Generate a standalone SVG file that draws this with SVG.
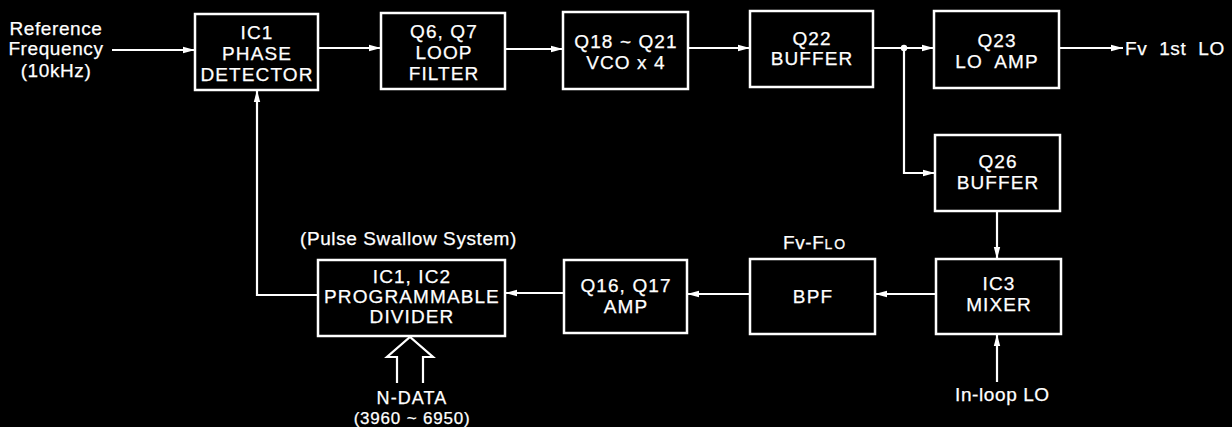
<svg xmlns="http://www.w3.org/2000/svg" width="1232" height="427" viewBox="0 0 1232 427">
<defs>
<style>
.box{fill:#000;stroke:#fff;stroke-width:2.5}
.t{fill:#fff;stroke:#fff;stroke-width:0.25;font-family:"Liberation Sans",Arial,sans-serif;font-size:19px;letter-spacing:1.1px;text-anchor:middle}
.l{fill:#fff;stroke:#fff;stroke-width:0.25;font-family:"Liberation Sans",Arial,sans-serif;font-size:19px;letter-spacing:0.6px}
.c{fill:none;stroke:#fff;stroke-width:2.2}
</style>
<marker id="ah" viewBox="0 0 12 8" refX="12" refY="4" markerWidth="12" markerHeight="8" markerUnits="userSpaceOnUse" orient="auto">
<path d="M0,0.8 L12,4 L0,7.2 Z" fill="#fff"/>
</marker>
</defs>
<rect width="1232" height="427" fill="#000"/>
<g id="connectors">
<path class="c" d="M112,50 H195" marker-end="url(#ah)"/>
<path class="c" d="M318,48 H381" marker-end="url(#ah)"/>
<path class="c" d="M505,49 H563" marker-end="url(#ah)"/>
<path class="c" d="M688,48 H750" marker-end="url(#ah)"/>
<path class="c" d="M873,48 H934" marker-end="url(#ah)"/>
<circle cx="904" cy="48" r="3.2" fill="#fff"/>
<path class="c" d="M904,48 V173 H935" marker-end="url(#ah)"/>
<path class="c" d="M1059,48 H1123" marker-end="url(#ah)"/>
<path class="c" d="M997,211 V259" marker-end="url(#ah)"/>
<path class="c" d="M997,382 V334" marker-end="url(#ah)"/>
<path class="c" d="M936,294 H875" marker-end="url(#ah)"/>
<path class="c" d="M750,294 H687" marker-end="url(#ah)"/>
<path class="c" d="M564,293 H505" marker-end="url(#ah)"/>
<path class="c" d="M318,295 H257 V90" marker-end="url(#ah)"/>
<path class="c" d="M397,383 V357 H387 L410,337 L433,357 H423 V383"/>
</g>
<g id="ref-input">
<text class="l" x="56" y="35" text-anchor="middle">Reference</text>
<text class="l" x="56" y="55" text-anchor="middle">Frequency</text>
<text class="l" x="56" y="77" text-anchor="middle">(10kHz)</text>
</g>
<g id="phase-detector">
<rect class="box" x="195" y="14" width="123" height="76"/>
<text class="t" x="257" y="39">IC1</text>
<text class="t" x="257" y="60">PHASE</text>
<text class="t" x="257" y="81">DETECTOR</text>
</g>
<g id="loop-filter">
<rect class="box" x="381" y="13" width="124" height="76"/>
<text class="t" x="444" y="38">Q6, Q7</text>
<text class="t" x="444" y="59">LOOP</text>
<text class="t" x="444" y="80">FILTER</text>
</g>
<g id="vco">
<rect class="box" x="563" y="12" width="125" height="77"/>
<text class="t" x="626" y="48">Q18 ~ Q21</text>
<text class="t" x="626" y="69">VCO x 4</text>
</g>
<g id="q22-buffer">
<rect class="box" x="750" y="11" width="123" height="76"/>
<text class="t" x="812" y="45">Q22</text>
<text class="t" x="812" y="65">BUFFER</text>
</g>
<g id="q23-lo-amp">
<rect class="box" x="934" y="11" width="125" height="77"/>
<text class="t" x="997" y="47">Q23</text>
<text class="t" x="997" y="68" word-spacing="6">LO AMP</text>
</g>
<g id="output-label">
<text class="l" x="1125" y="55" word-spacing="6">Fv 1st LO</text>
</g>
<g id="q26-buffer">
<rect class="box" x="935" y="135" width="125" height="76"/>
<text class="t" x="998" y="168">Q26</text>
<text class="t" x="998" y="189">BUFFER</text>
</g>
<g id="mixer">
<rect class="box" x="936" y="259" width="125" height="75"/>
<text class="t" x="999" y="290">IC3</text>
<text class="t" x="999" y="311">MIXER</text>
</g>
<g id="in-loop-lo">
<text class="l" x="955" y="401">In-loop LO</text>
</g>
<g id="bpf">
<rect class="box" x="750" y="259" width="125" height="75"/>
<text class="t" x="813" y="303">BPF</text>
<text class="l" x="783" y="249">Fv-F<tspan font-size="14" letter-spacing="2">LO</tspan></text>
</g>
<g id="amp">
<rect class="box" x="564" y="260" width="123" height="73"/>
<text class="t" x="626" y="292">Q16, Q17</text>
<text class="t" x="626" y="313">AMP</text>
</g>
<g id="divider">
<rect class="box" x="318" y="260" width="187" height="76"/>
<text class="t" x="412" y="283">IC1, IC2</text>
<text class="t" x="412" y="303">PROGRAMMABLE</text>
<text class="t" x="412" y="323">DIVIDER</text>
<text class="l" x="300" y="245">(Pulse Swallow System)</text>
</g>
<g id="n-data">
<text class="t" x="412" y="404" style="font-size:18px">N-DATA</text>
<text class="l" x="412" y="424" text-anchor="middle" style="font-size:17px;letter-spacing:0.8px">(3960 ~ 6950)</text>
</g>
</svg>
